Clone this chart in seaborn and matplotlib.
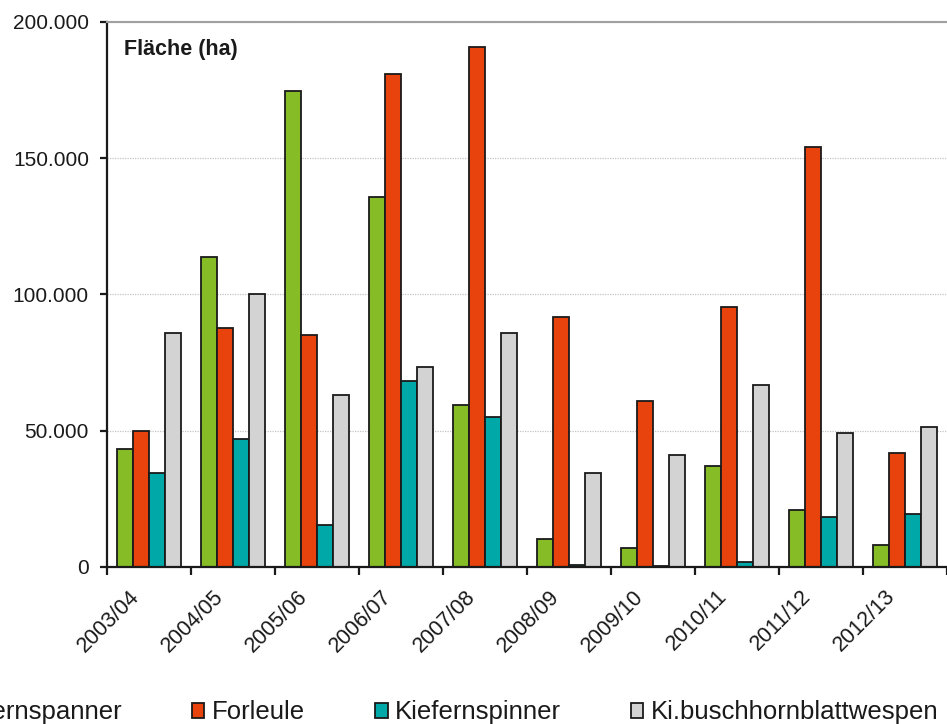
import matplotlib
matplotlib.use("Agg")
import matplotlib.pyplot as plt
from matplotlib.ticker import FuncFormatter, FixedLocator
from matplotlib.transforms import ScaledTranslation
import seaborn as sns
import pandas as pd

# Befallsflächen (ha) je Forstwirtschaftsjahr
jahre = ["2003/04", "2004/05", "2005/06", "2006/07", "2007/08",
         "2008/09", "2009/10", "2010/11", "2011/12", "2012/13"]
kiefernspanner = [43300, 113800, 174700, 135800, 59400, 10300, 7000, 37000, 21000, 8000]
forleule = [50000, 87700, 85100, 181000, 190800, 91700, 61000, 95400, 154000, 41800]
kiefernspinner = [34500, 47000, 15400, 68300, 55000, 700, 500, 2000, 18300, 19500]
buschhornblattwespen = [86000, 100000, 63100, 73400, 86000, 34500, 41000, 66800, 49200, 51300]

arten = ["Kiefernspanner", "Forleule", "Kiefernspinner", "Ki.buschhornblattwespen"]
farben = ["#86BC25", "#E8430D", "#00A8A8", "#D3D3D3"]

df = pd.DataFrame({
    "Jahr": jahre * 4,
    "Art": sum([[a] * len(jahre) for a in arten], []),
    "Fläche": kiefernspanner + forleule + kiefernspinner + buschhornblattwespen,
})

sns.set_theme(style="white")
plt.rcParams["font.family"] = ["Liberation Sans", "DejaVu Sans"]

fig = plt.figure(figsize=(9.47, 7.24), dpi=100)
ax = fig.add_axes([107 / 947, 1 - 567 / 724, 840 / 947, (567 - 22) / 724])

sns.barplot(data=df, x="Jahr", y="Fläche", hue="Art", hue_order=arten,
            order=jahre, palette=dict(zip(arten, farben)), width=0.76,
            edgecolor="#1a1a1a", linewidth=1.3, saturation=1, ax=ax,
            legend=True)

ax.set_xlim(-0.5, len(jahre) - 0.5)
ax.set_ylim(0, 200000)
ax.set_yticks([0, 50000, 100000, 150000, 200000])
ax.yaxis.set_major_formatter(FuncFormatter(lambda v, p: f"{int(v):,}".replace(",", ".")))
ax.set_xlabel("")
ax.set_ylabel("")

# gridlines
ax.yaxis.grid(True, linestyle=(0, (1, 1)), color="#c4c4c4", linewidth=0.9)
ax.xaxis.grid(False)
ax.set_axisbelow(True)

for side in ["left", "bottom"]:
    ax.spines[side].set_color("#1a1a1a")
    ax.spines[side].set_linewidth(1.6)
ax.spines["right"].set_visible(False)
ax.spines["top"].set_color("#a0a0a0")
ax.spines["top"].set_linewidth(1.5)

ax.tick_params(axis="y", which="major", direction="out", length=5, width=1.6,
               color="#1a1a1a", labelsize=15, pad=8, left=True, labelcolor="#1a1a1a")
# category boundary tick marks, labels at category centres
ax.xaxis.set_minor_locator(FixedLocator([i - 0.5 for i in range(len(jahre) + 1)]))
ax.tick_params(axis="x", which="minor", direction="out", length=6, width=1.6,
               color="#1a1a1a", bottom=True)
ax.tick_params(axis="x", which="major", length=0, labelsize=15.5, pad=19,
               labelcolor="#1a1a1a")
for lab in ax.get_xticklabels():
    lab.set_rotation(45)
    lab.set_ha("right")
    lab.set_va("center")
    lab.set_rotation_mode("anchor")
    lab.set_transform(lab.get_transform() + ScaledTranslation(-0.13, 0, fig.dpi_scale_trans))

ax.text(0.02, 0.95, "Fläche (ha)", transform=ax.transAxes, fontsize=15.5,
        fontweight="bold", color="#1a1a1a", ha="left", va="center")

handles, labels = ax.get_legend_handles_labels()
ax.get_legend().remove()
fig.legend(handles, labels, loc="center left", bbox_to_anchor=(-0.077, 0.016),
           ncol=4, frameon=False, fontsize=18.5, handlelength=0.5,
           handleheight=0.5, handletextpad=0.3, columnspacing=2.7,
           borderpad=0, borderaxespad=0, labelcolor="#1a1a1a")

fig.savefig("out.png", dpi=100)
